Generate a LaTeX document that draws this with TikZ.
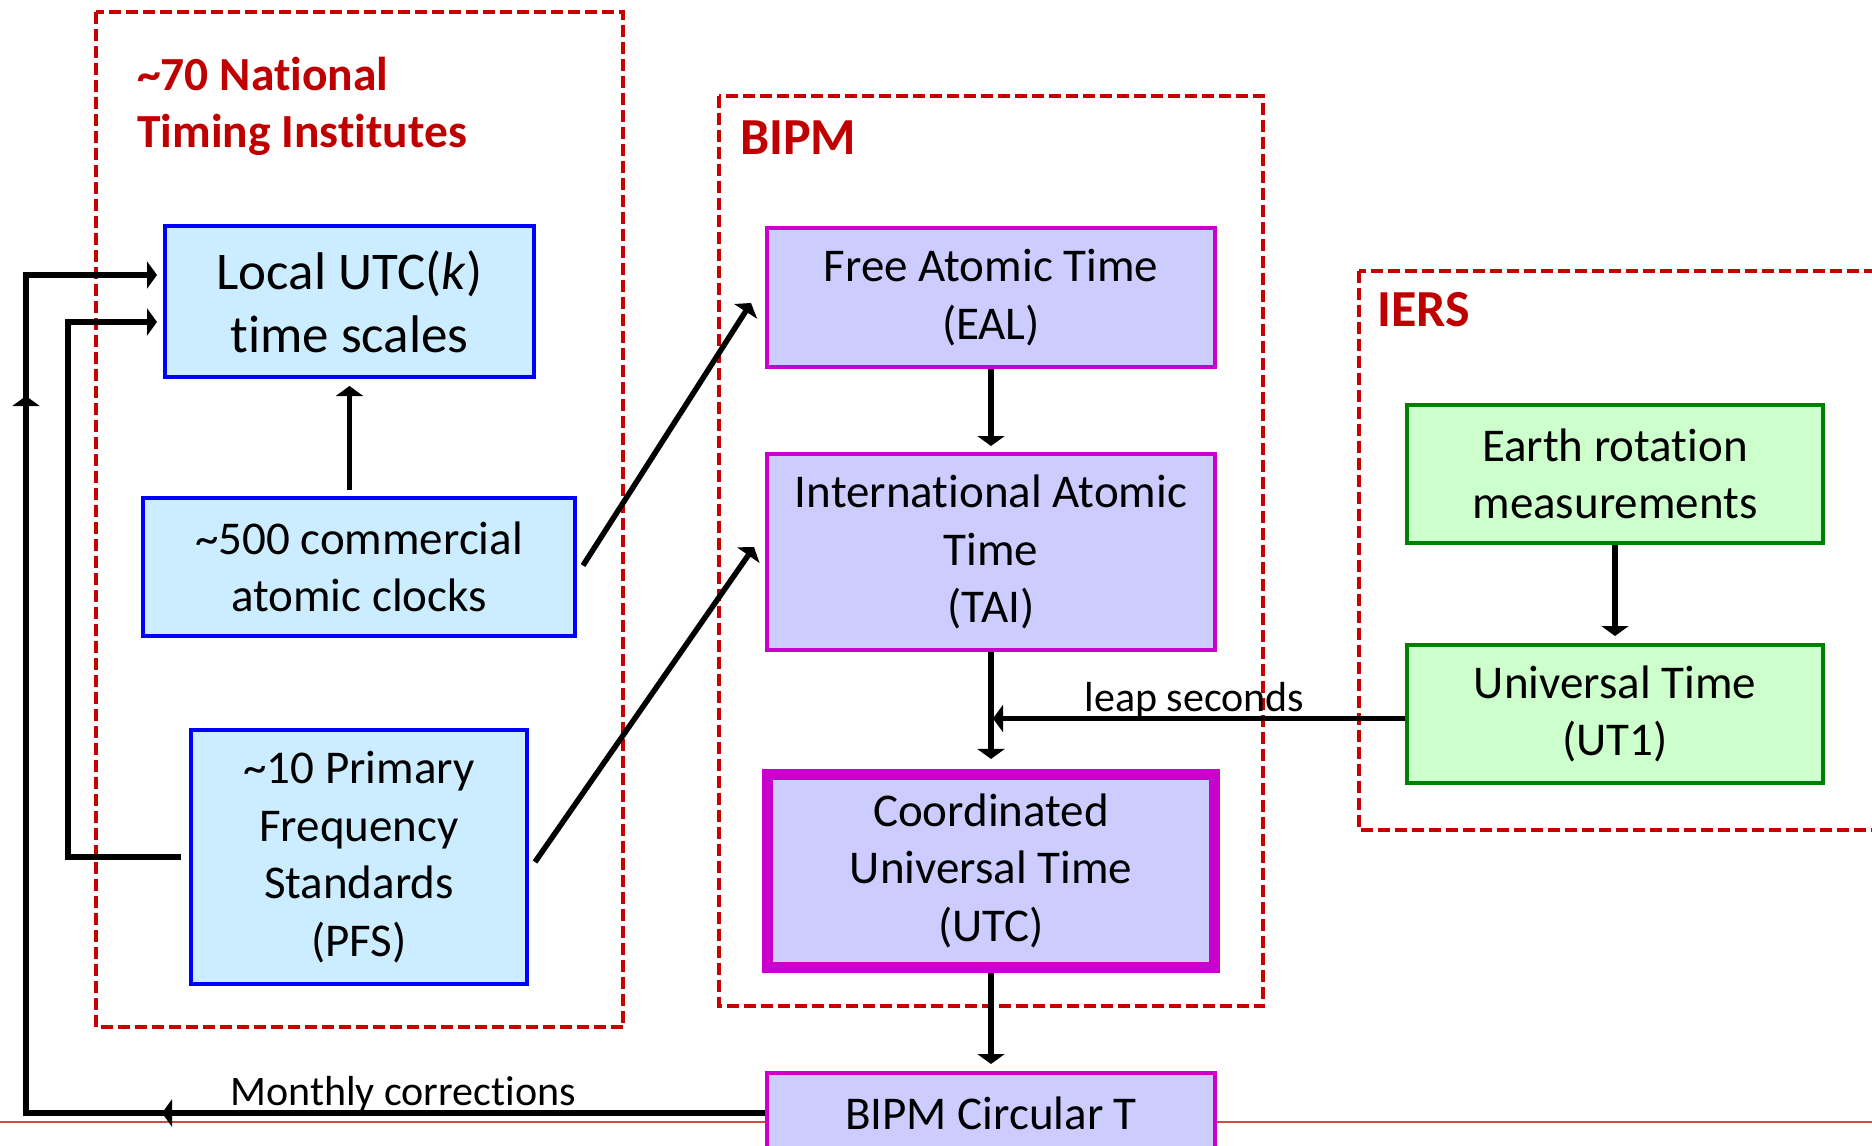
\documentclass[tikz,border=0pt]{standalone}
\usepackage{fontspec}
\setmainfont{Carlito}[Ligatures=NoCommon]
\usetikzlibrary{arrows.meta,decorations.markings}
\definecolor{tred}{HTML}{C00000}
\definecolor{dred}{HTML}{C80000}
\definecolor{bfill}{HTML}{CCECFF}
\definecolor{bline}{HTML}{0000FF}
\definecolor{pfill}{HTML}{CCCCFF}
\definecolor{pline}{HTML}{CC00CC}
\definecolor{gfill}{HTML}{CCFFCC}
\definecolor{gline}{HTML}{008000}
\definecolor{sepred}{HTML}{D04848}
\begin{document}
\begin{tikzpicture}[x=1pt,y=-1pt,
  box/.style={draw, line width=4pt, inner sep=0pt, align=center, font=\fontsize{47}{57.5}\selectfont},
  bluebox/.style={box, draw=bline, fill=bfill},
  purplebox/.style={box, draw=pline, fill=pfill},
  greenbox/.style={box, draw=gline, fill=gfill},
  group/.style={draw=dred, line width=4pt, dash pattern=on 12pt off 5pt},
  tipstyle/.tip={Triangle[length=10pt,width=27pt]},
  arr/.style={line width=5.5pt, -tipstyle},
  lab/.style={font=\fontsize{42}{50}\selectfont, inner sep=0pt, anchor=base},
  ttl/.style={text=tred, font=\bfseries\fontsize{52}{60}\selectfont, inner sep=0pt, anchor=west, align=left}
]
\clip (0,0) rectangle (1872,1146);
\fill[white] (0,0) rectangle (1872,1146);

% separator line
\draw[sepred, line width=2pt] (0,1122) -- (1872,1122);

% group frames
\draw[group] (95.5,12) rectangle (623,1027);
\draw[group] (719,95.5) rectangle (1263,1006);
\draw[group] (1359,271) rectangle (1900,830);

% titles
\node[ttl, font=\bfseries\fontsize{47.5}{57}\selectfont] (t70) at (137,106) {\textasciitilde 70 National\\Timing Institutes};
\node[ttl] (tbipm) at (740,138) {BIPM};
\node[ttl] (tiers) at (1377,310) {IERS};

% boxes
\node[bluebox, minimum width=369pt, minimum height=151pt, font=\fontsize{53}{63}\selectfont] (local) at (349.5,301.5) {Local UTC(\textit{k})\\time scales};
\node[bluebox, minimum width=432pt, minimum height=138pt] (c500) at (359,567) {\textasciitilde 500 commercial\\atomic clocks};
\node[bluebox, minimum width=336pt, minimum height=254pt] (pfs) at (359,857) {\textasciitilde 10 Primary\\Frequency\\Standards\\(PFS)};

\node[purplebox, minimum width=448pt, minimum height=139pt] (eal) at (991,297.5) {Free Atomic Time\\(EAL)};
\node[purplebox, minimum width=448pt, minimum height=196pt] (tai) at (991,552) {International Atomic\\Time\\(TAI)};
\node[purplebox, line width=10.7pt, minimum width=447.4pt, minimum height=193pt] (utc) at (991,870.8) {Coordinated\\Universal Time\\(UTC)};
\node[purplebox, minimum width=448pt, minimum height=80pt] (circ) at (991,1113) {BIPM Circular T};

\node[greenbox, minimum width=416pt, minimum height=138pt] (earth) at (1615,474) {Earth rotation\\measurements};
\node[greenbox, minimum width=416pt, minimum height=138pt] (ut1) at (1615,714) {Universal Time\\(UT1)};

% vertical chain
\draw[arr, shorten >=6pt] (eal.south) -- (tai.north);
\draw[arr, shorten >=10pt] (tai.south) -- (utc.north);
\draw[arr, shorten >=7pt] (utc.south) -- (circ.north);
\draw[arr, shorten >=7pt] (earth.south) -- (ut1.north);

% leap seconds
\coordinate (lp) at (993,718.5);
\draw[arr] ([yshift=-4.5pt]ut1.west) -- (lp);
\node[lab] (leaplab) at (1194.5,711) {leap seconds};

% commercial clocks to local
\coordinate (c5top) at (local.south |- c500.north);
\draw[arr, shorten >=7pt, shorten <=6pt] (c5top) -- (local.south);

% diagonals
\draw[arr] ([xshift=6pt,yshift=1.5pt]c500.east) -- ([xshift=-14pt,yshift=-5.5pt]eal.west);
\draw[arr] ([xshift=6pt,yshift=-5pt]pfs.east) -- ([xshift=-11pt,yshift=5pt]tai.west);

% PFS to local
\coordinate (pleft) at (68,322);
\draw[arr] ([xshift=-8pt]pfs.west) -| (pleft) -- ([xshift=-6pt,yshift=-20.5pt]local.west);

% monthly corrections
\coordinate (mleft) at (26,275);
\draw[arr, postaction={decorate}, decoration={markings,
    mark=at position 603pt with {\arrow{tipstyle}},
    mark=at position 1456pt with {\arrow{tipstyle}}}]
  (circ.west) -| (mleft) -- ([xshift=-6pt,yshift=26.5pt]local.west);
\node[lab] (monlab) at (403,1105) {Monthly corrections};
\end{tikzpicture}
\end{document}
